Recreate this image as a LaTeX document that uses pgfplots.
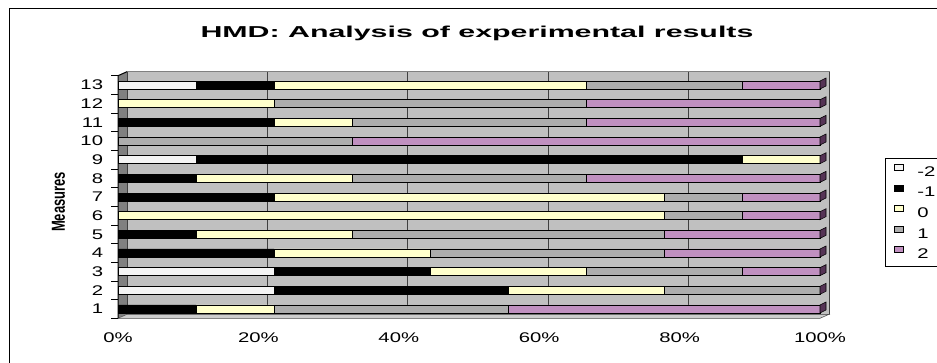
\documentclass[border=0pt]{standalone}
\usepackage{pgfplots}
\pgfplotsset{compat=1.18}
\usepackage{pgfplotstable}
\usepackage{graphicx}
\usepackage{fontspec}
\setmainfont{Liberation Sans}
\definecolor{wall}{HTML}{C0C0C0}
\definecolor{side}{HTML}{808080}
\definecolor{cmtwo}{HTML}{F4F4F4}
\definecolor{cz}{HTML}{FFFFCC}
\definecolor{cpone}{HTML}{ADADAD}
\definecolor{cptwo}{HTML}{C090C0}
\definecolor{capc}{HTML}{553355}
\newcommand\sx[1]{\scalebox{1.45}[1]{#1}}
\pgfdeclareplotmark{cap}{%
 \pgfpathmoveto{\pgfqpoint{0pt}{-3pt}}%
 \pgfpathlineto{\pgfqpoint{4.5pt}{-0.75pt}}%
 \pgfpathlineto{\pgfqpoint{4.5pt}{5.25pt}}%
 \pgfpathlineto{\pgfqpoint{0pt}{3pt}}%
 \pgfpathclose
 \pgfusepathqfillstroke}
\pgfplotsset{leg/.style={legend image code/.code={\draw[##1, line width=0.4pt] (0pt,1.5pt) rectangle (6.75pt,6pt);}},
  geom/.style={at={(88.5pt,32.775pt)}, anchor=south west,
  scale only axis, width=526.5pt, height=181.95pt,
  xmin=0, xmax=9, ymin=0.5, ymax=13.5}}

\pgfplotstableread{
m n2 n1 z p1 p2
1 0 1 1 3 4
2 2 3 2 2 0
3 2 2 2 2 1
4 0 2 2 3 2
5 0 1 2 4 2
6 0 0 7 1 1
7 0 2 5 1 1
8 0 1 2 3 3
9 1 7 1 0 0
10 0 0 0 3 6
11 0 2 1 3 3
12 0 0 2 4 3
13 1 1 4 2 1
}\data

\begin{document}
\begin{tikzpicture}[x=0.75pt,y=0.75pt]
\useasboundingbox (0,0) rectangle (937,362);
\clip (0,0) rectangle (937,362);
\fill[white] (0,0) rectangle (937,362);
\draw[line width=0.75pt] (9,-10) -- (9,353.3) -- (950,353.3);
\node[anchor=base, font=\bfseries\fontsize{11.85pt}{14pt}\selectfont] at (477,324.7) {\scalebox{1.92}[1]{HMD: Analysis of experimental results}};
\node[rotate=90, font=\bfseries\fontsize{9.75pt}{12pt}\selectfont] at (58.5,160) {\scalebox{1}[1.45]{Measures}};
\begin{axis}[geom, hide axis, clip=false]
 \fill[wall, draw=side] ([shift={(6.75pt,3pt)}]axis cs:0,0.5) rectangle ([shift={(6.75pt,3pt)}]axis cs:9,13.5);
 \fill[side] (axis cs:0,0.5) -- (axis cs:0,13.5) -- ([shift={(6.75pt,3pt)}]axis cs:0,13.5) -- ([shift={(6.75pt,3pt)}]axis cs:0,0.5) -- cycle;
 \fill[wall!80!white, draw=black!70] (axis cs:0,0.5) -- (axis cs:9,0.5) -- ([shift={(6.75pt,3pt)}]axis cs:9,0.5) -- ([shift={(6.75pt,3pt)}]axis cs:0,0.5) -- cycle;
\end{axis}
\begin{axis}[
  geom, clip=false,
  xbar stacked, bar width=6pt,
  axis line style={draw=none},
  xtick={0,1.8,3.6,5.4,7.2,9},
  xticklabels={\sx{0\%},\sx{20\%},\sx{40\%},\sx{60\%},\sx{80\%},\sx{100\%}},
  ytick={1,2,3,4,5,6,7,8,9,10,11,12,13},
  yticklabels={\sx{1},\sx{2},\sx{3},\sx{4},\sx{5},\sx{6},\sx{7},\sx{8},\sx{9},\sx{10},\sx{11},\sx{12},\sx{13}},
  minor ytick={0.5,1.5,...,13.5},
  xtick pos=bottom, ytick pos=left, tick align=outside,
  major tick length=0pt, minor tick length=5.25pt,
  tick style={black, line width=0.6pt},
  ticklabel style={font=\fontsize{10.5pt}{12pt}\selectfont},
  xticklabel style={anchor=base, yshift=-18pt},
  yticklabel style={anchor=east, inner sep=0pt, xshift=-11pt},
  xmajorgrids,
  major grid style={black!75, line width=0.75pt, xshift=6.75pt, yshift=3pt},
  legend style={at={(1.0926,0.661)}, anchor=north west, draw=black, line width=0.6pt,
    fill=white, font=\fontsize{10.5pt}{12pt}\selectfont, inner xsep=6.75pt, inner ysep=4.5pt,
    row sep=4.8pt, column sep=10pt, nodes={inner sep=0pt}},
  legend cell align=left,
]
\draw[black, line width=0.75pt] (axis cs:0,0.5) -- (axis cs:0,13.5) -- ([shift={(6.75pt,3pt)}]axis cs:0,13.5);
\addplot[fill=cmtwo, draw=black, line width=0.4pt, leg] table[x=n2, y=m]{\data};
\addlegendentry{\sx{-2}}
\addplot[fill=black, draw=black, line width=0.4pt, leg] table[x=n1, y=m]{\data};
\addlegendentry{\sx{-1}}
\addplot[fill=cz, draw=black, line width=0.4pt, leg] table[x=z, y=m]{\data};
\addlegendentry{\sx{0}}
\addplot[fill=cpone, draw=black, line width=0.4pt, leg] table[x=p1, y=m]{\data};
\addlegendentry{\sx{1}}
\addplot[fill=cptwo, draw=black, line width=0.4pt, leg] table[x=p2, y=m]{\data};
\addlegendentry{\sx{2}}
\end{axis}
\begin{axis}[geom, hide axis, clip=false]
\addplot[only marks, mark=cap, mark options={fill=capc, draw=black, line width=0.4pt}] coordinates {(9,1) (9,2) (9,3) (9,4) (9,5) (9,6) (9,7) (9,8) (9,9) (9,10) (9,11) (9,12) (9,13)};
\end{axis}
\end{tikzpicture}
\end{document}
